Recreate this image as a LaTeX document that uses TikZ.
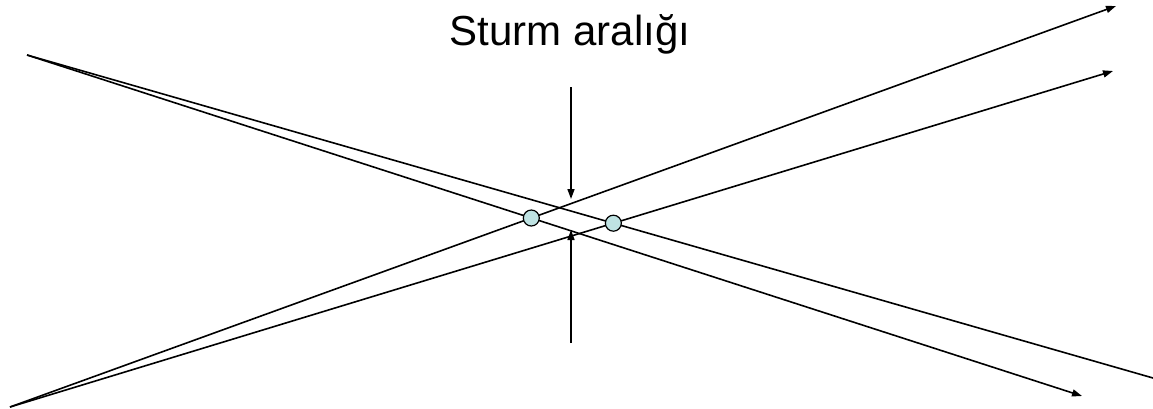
\documentclass[tikz,border=0pt]{standalone}
\usepackage{fontspec}
\setmainfont{Liberation Sans}
\usetikzlibrary{arrows.meta,intersections}
\definecolor{focusfill}{HTML}{BFE3E3}
\begin{document}
\begin{tikzpicture}[x=1pt,y=-1pt,
  ray/.style={line width=1.6pt},
  rayarrow/.style={ray,-{Triangle[length=10pt,width=7pt]}},
  focus/.style={circle,draw=black,line width=1.2pt,fill=focusfill,minimum size=16pt,inner sep=0pt},
  title/.style={font=\fontsize{42}{50}\selectfont,anchor=base}]
\path[use as bounding box] (0,0) rectangle (1153,408);
\coordinate (A) at (27,55);
\coordinate (B) at (10,407);
\coordinate (Ta) at (1116,6);
\coordinate (Tb) at (1113,71);
\coordinate (Ra) at (1082,396);
\coordinate (Rb) at (1153,378);
\coordinate (Vt) at (571,87);
\coordinate (Vtt) at (571,199);
\coordinate (Vb) at (571,343);
\coordinate (Vbt) at (571,230);
\draw[ray,name path=rb] (A) -- (Rb);
\draw[rayarrow,name path=ra] (A) -- (Ra);
\draw[rayarrow,name path=ta] (B) -- (Ta);
\draw[rayarrow,name path=tb] (B) -- (Tb);
\draw[rayarrow] (Vt) -- (Vtt);
\draw[rayarrow] (Vb) -- (Vbt);
\path[name intersections={of=ra and ta,by=X1}];
\path[name intersections={of=rb and tb,by=X2}];
\node[focus] (P1) at (X1) {};
\node[focus] (P2) at (X2) {};
\node[title] (T) at (570,45) {Sturm aralığı};
\end{tikzpicture}
\end{document}
